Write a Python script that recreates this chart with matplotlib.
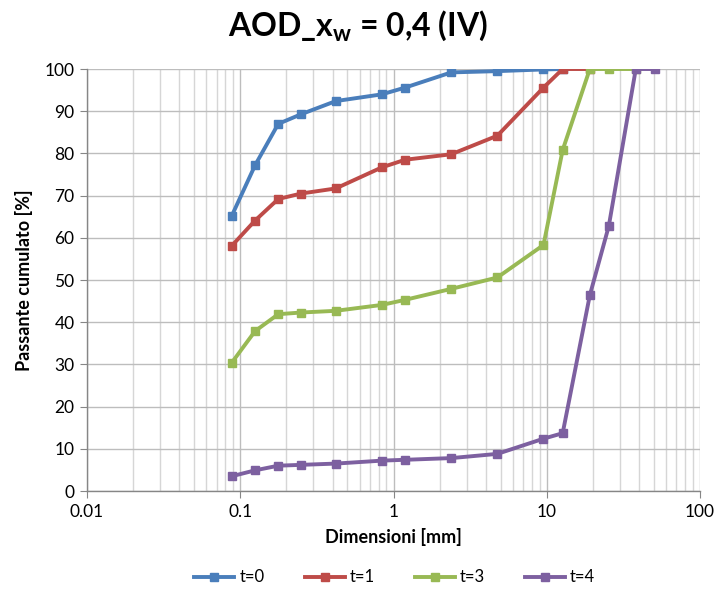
import matplotlib
matplotlib.use("Agg")
import matplotlib.pyplot as plt
from matplotlib.ticker import LogLocator, FixedLocator, NullFormatter

plt.rcParams["font.family"] = ["Lato", "DejaVu Sans"]
plt.rcParams["mathtext.fontset"] = "custom"
plt.rcParams["mathtext.rm"] = "Lato"
plt.rcParams["mathtext.bf"] = "Lato:bold"

# Sieve openings [mm]
sizes = [0.088, 0.125, 0.177, 0.25, 0.42, 0.84, 1.19, 2.38, 4.76, 9.52,
         12.7, 19.1, 25.4, 38.1, 50.8]

# Cumulative passing [%] for each time step
t0 = [65.2, 77.2, 87.0, 89.3, 92.4, 94.0, 95.6, 99.2, 99.5, 99.9, 100.0]
t1 = [58.1, 64.1, 69.2, 70.5, 71.7, 76.7, 78.5, 79.8, 84.2, 95.6, 100.0, 100.0]
t3 = [30.4, 37.9, 41.9, 42.3, 42.7, 44.1, 45.3, 47.9, 50.6, 58.3, 80.8,
      100.0, 100.0, 100.0]
t4 = [3.5, 4.9, 6.0, 6.2, 6.5, 7.2, 7.4, 7.8, 8.8, 12.4, 13.7, 46.4, 62.8,
      100.0, 100.0]

labels = ["t=0", "t=1", "t=3", "t=4"]
colors = ["#4A7EBB", "#BE4B48", "#98B954", "#7D60A0"]
series = [t0, t1, t3, t4]

fig = plt.figure(figsize=(7.19, 6.13), dpi=100)
ax = fig.add_axes([0.121, 0.199, 0.8526, 0.6884])

for vals, lab, col in zip(series, labels, colors):
    ax.plot(sizes[:len(vals)], vals, color=col, lw=2.8, marker="s",
            markersize=5.5, label=lab, solid_joinstyle="round")

ax.set_xscale("log")
ax.set_xlim(0.01, 100)
ax.set_ylim(0, 100)
ax.set_yticks(range(0, 101, 10))
ax.xaxis.set_major_locator(FixedLocator([0.01, 0.1, 1, 10, 100]))
ax.set_xticklabels(["0.01", "0.1", "1", "10", "100"])
ax.xaxis.set_minor_locator(LogLocator(base=10, subs=range(2, 10), numticks=20))
ax.xaxis.set_minor_formatter(NullFormatter())

ax.grid(True, which="major", axis="both", color="#BDBDBD", lw=1.0)
ax.grid(True, which="minor", axis="x", color="#D6D6D6", lw=1.0)
ax.set_axisbelow(True)

for s in ["top", "right"]:
    ax.spines[s].set_visible(False)
for s in ["left", "bottom"]:
    ax.spines[s].set_color("#868686")
    ax.spines[s].set_linewidth(1.0)

ax.tick_params(axis="both", which="major", direction="out", length=5,
               color="#868686", labelsize=12.5, labelcolor="#000000", pad=4)
ax.tick_params(axis="x", which="minor", length=0)

ax.set_xlabel("Dimensioni [mm]", fontsize=13, fontweight="bold", labelpad=6)
ax.set_ylabel("Passante cumulato [%]", fontsize=13, fontweight="bold",
              labelpad=8)

fig.text(0.498, 0.958, r"AOD_x$_\mathbf{w}$ = 0,4 (IV)", ha="center",
         va="center", fontsize=23, fontweight="bold")

fig.legend(loc="center", bbox_to_anchor=(0.549, 0.058), ncol=4,
           frameon=False, fontsize=12, handlelength=2.4, columnspacing=2.4,
           handletextpad=0.3)

fig.savefig("out.png", dpi=100)
